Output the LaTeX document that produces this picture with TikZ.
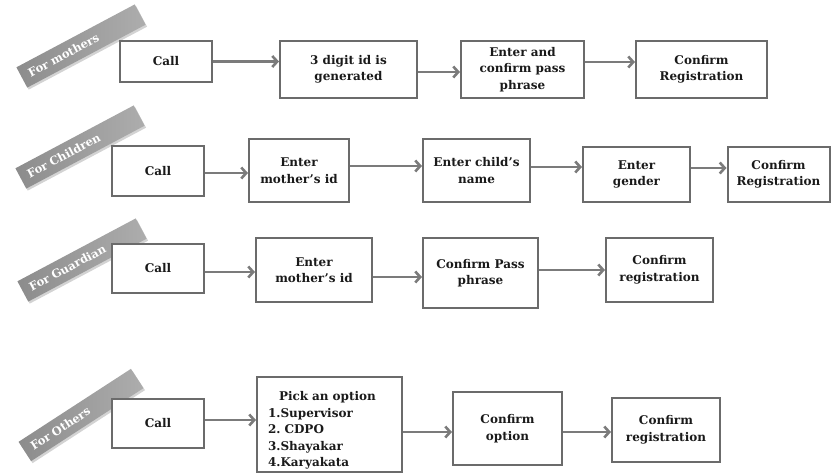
\documentclass[tikz,border=0pt]{standalone}
\usepackage{fontspec}
\setmainfont{DejaVu Serif}
\usetikzlibrary{arrows.meta,shadows}
\definecolor{boxline}{HTML}{6B6B6B}
\definecolor{arrowcol}{HTML}{7B7B7B}
\definecolor{ribdark}{HTML}{8C8C8C}
\definecolor{riblight}{HTML}{ADADAD}
\definecolor{txt}{HTML}{1A1A1A}
\tikzset{
  stepbox/.style={draw=boxline, line width=2pt, fill=white, text=txt,
    font=\fontsize{12}{16.5}\selectfont\bfseries, align=center, inner sep=2pt},
  flow/.style={draw=arrowcol, line width=2.6pt,
    -{Straight Barb[length=5pt,width=11pt]}},
  ribbon/.style={left color=ribdark, right color=riblight, draw=none,
    minimum width=134pt, minimum height=23pt, text width=118pt, align=left,
    inner sep=0pt, text=white, font=\fontsize{11.5}{12}\selectfont\bfseries,
    drop shadow={opacity=0.35, shadow xshift=1.5pt, shadow yshift=-2pt}}
}
\begin{document}
\begin{tikzpicture}[x=1pt,y=-1pt]
\useasboundingbox (0,0) rectangle (831,474);
% ribbons
\node[ribbon, rotate=28] (r1) at (81,46) {For mothers};
\node[ribbon, rotate=28] (r2) at (80,147) {For Children};
\node[ribbon, rotate=28] (r3) at (82,260) {For Guardian};
\node[ribbon, rotate=33] (r4) at (81,415) {For Others};
% row 1
\node[stepbox, minimum width=92pt, minimum height=41pt] (m1) at (166,61.5) {Call};
\node[stepbox, minimum width=137pt, minimum height=57pt] (m2) at (348.5,69.5) {3 digit id is\\generated};
\node[stepbox, minimum width=123pt, minimum height=57pt] (m3) at (522.5,69.5) {Enter and\\confirm pass\\phrase};
\node[stepbox, minimum width=131pt, minimum height=57pt] (m4) at (701.5,69.5) {Confirm\\Registration};
\draw[flow] (m1.east) -- (m1.east -| m2.west);
\draw[flow] ([yshift=-2.5pt]m2.east) -- ([yshift=-2.5pt]m2.east -| m3.west);
\draw[flow] ([yshift=7.5pt]m3.east) -- ([yshift=7.5pt]m3.east -| m4.west);
% row 2
\node[stepbox, minimum width=92pt, minimum height=50pt] (c1) at (158,171) {Call};
\node[stepbox, minimum width=100pt, minimum height=63pt] (c2) at (299,170.5) {Enter\\mother’s id};
\node[stepbox, minimum width=107pt, minimum height=63pt] (c3) at (476.5,170.5) {Enter child’s\\name};
\node[stepbox, minimum width=107pt, minimum height=55pt] (c4) at (636.5,174.5) {Enter\\gender};
\node[stepbox, minimum width=102pt, minimum height=55pt, inner sep=0pt] (c5) at (778.5,174.5) {Confirm\\Registration};
\draw[flow] ([yshift=-2pt]c1.east) -- ([yshift=-2pt]c1.east -| c2.west);
\draw[flow] ([yshift=4.5pt]c2.east) -- ([yshift=4.5pt]c2.east -| c3.west);
\draw[flow] ([yshift=3.5pt]c3.east) -- ([yshift=3.5pt]c3.east -| c4.west);
\draw[flow] ([yshift=6.5pt]c4.east) -- ([yshift=6.5pt]c4.east -| c5.west);
% row 3
\node[stepbox, minimum width=92pt, minimum height=49pt] (g1) at (158,268.5) {Call};
\node[stepbox, minimum width=116pt, minimum height=64pt] (g2) at (314,270) {Enter\\mother’s id};
\node[stepbox, minimum width=115pt, minimum height=70pt] (g3) at (480.5,273) {Confirm Pass\\phrase};
\node[stepbox, minimum width=107pt, minimum height=64pt] (g4) at (659.5,270) {Confirm\\registration};
\draw[flow] ([yshift=-3.5pt]g1.east) -- ([yshift=-3.5pt]g1.east -| g2.west);
\draw[flow] ([yshift=-7pt]g2.east) -- ([yshift=-7pt]g2.east -| g3.west);
\draw[flow] ([yshift=3pt]g3.east) -- ([yshift=3pt]g3.east -| g4.west);
% row 4
\node[stepbox, minimum width=92pt, minimum height=49pt] (o1) at (158,423.5) {Call};
\node[stepbox, minimum width=145pt, minimum height=95pt, align=left, text width=123pt, inner sep=0pt] (o2) at (329.5,424.5)
  {\rule{0pt}{21pt}\hspace*{11pt}Pick an option\\1.Supervisor\\2.\ CDPO\\3.Shayakar\\4.Karyakata};
\node[stepbox, minimum width=109pt, minimum height=73pt] (o3) at (507.5,428.5) {Confirm\\option};
\node[stepbox, minimum width=108pt, minimum height=64pt] (o4) at (666,430) {Confirm\\registration};
\draw[flow] ([yshift=3.5pt]o1.east) -- ([yshift=3.5pt]o1.east -| o2.west);
\draw[flow] ([yshift=-7.5pt]o2.east) -- ([yshift=-7.5pt]o2.east -| o3.west);
\draw[flow] ([yshift=-3.5pt]o3.east) -- ([yshift=-3.5pt]o3.east -| o4.west);
\end{tikzpicture}
\end{document}
